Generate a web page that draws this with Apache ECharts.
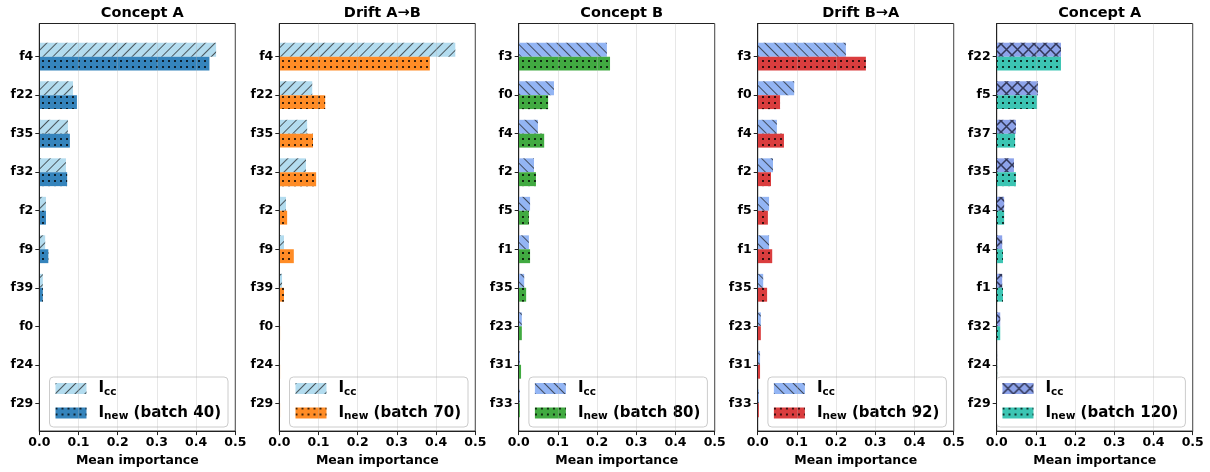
<!DOCTYPE html>
<html>
<head>
<meta charset="utf-8">
<script src="https://cdn.jsdelivr.net/npm/echarts@6/dist/echarts.min.js"></script>
<style>
  html, body { margin: 0; padding: 0; background: #fff; }
  #chart { width: 1210px; height: 472px; }
</style>
</head>
<body>
<div id="chart"></div>
<script>
// Panel titles and the batch each I_new was measured on
const titles = ['Concept A', 'Drift A\u2192B', 'Concept B', 'Drift B\u2192A', 'Concept A'];
const batches = [40, 70, 80, 92, 120];

// Feature order per panel (top to bottom)
const feats1 = ['f4', 'f22', 'f35', 'f32', 'f2', 'f9', 'f39', 'f0', 'f24', 'f29'];
const feats2 = ['f4', 'f22', 'f35', 'f32', 'f2', 'f9', 'f39', 'f0', 'f24', 'f29'];
const feats3 = ['f3', 'f0', 'f4', 'f2', 'f5', 'f1', 'f35', 'f23', 'f31', 'f33'];
const feats4 = ['f3', 'f0', 'f4', 'f2', 'f5', 'f1', 'f35', 'f23', 'f31', 'f33'];
const feats5 = ['f22', 'f5', 'f37', 'f35', 'f34', 'f4', 'f1', 'f32', 'f24', 'f29'];

// Concept-classifier importance (I_cc)
const icc1 = [0.451, 0.086, 0.073, 0.068, 0.017, 0.015, 0.009, 0.001, 0.0005, 0.0003];
const icc2 = [0.449, 0.084, 0.071, 0.068, 0.017, 0.012, 0.007, 0.001, 0.001, 0.001];
const icc3 = [0.225, 0.090, 0.049, 0.039, 0.029, 0.026, 0.014, 0.008, 0.003, 0.003];
const icc4 = [0.225, 0.093, 0.049, 0.039, 0.029, 0.029, 0.014, 0.008, 0.006, 0.003];
const icc5 = [0.164, 0.105, 0.049, 0.044, 0.019, 0.014, 0.014, 0.009, 0.001, 0.0003];

// Importance on the new batch (I_new)
const inew1 = [0.434, 0.096, 0.078, 0.071, 0.017, 0.023, 0.009, 0.0005, 0.0003, 0.0002];
const inew2 = [0.384, 0.117, 0.086, 0.094, 0.020, 0.037, 0.012, 0.002, 0.002, 0.002];
const inew3 = [0.233, 0.075, 0.065, 0.044, 0.026, 0.029, 0.019, 0.008, 0.006, 0.003];
const inew4 = [0.276, 0.057, 0.067, 0.034, 0.026, 0.037, 0.024, 0.008, 0.006, 0.003];
const inew5 = [0.164, 0.103, 0.047, 0.049, 0.019, 0.016, 0.016, 0.009, 0.001, 0.0003];

// X ticks
const xTicks = [0.0, 0.1, 0.2, 0.3, 0.4, 0.5];

const feats = [feats1, feats2, feats3, feats4, feats5];
const iccs = [icc1, icc2, icc3, icc4, icc5];
const inews = [inew1, inew2, inew3, inew4, inew5];

const ccColors = ['#b3dcef', '#b3dcef', '#93b5f4', '#93b5f4', '#8da3ea'];
const newColors = ['#3584bc', '#ff8c26', '#41aa41', '#da3d3e', '#3cc5b3'];
const hatchKinds = ['/', '/', '\\', '\\', 'x'];

const FONT = 'DejaVu Sans';
const W = 1210, H = 472;
const frameTop = 23.5, frameH = 411.5, frameW = 196;
const frameLefts = [39.3, 279.3, 518.7, 757.7, 996.7];
const rowStep = 38.51, firstRow = 56.7;
const dataTop = firstRow - rowStep / 2, dataH = rowStep * 10;

function hatchDecal(kind) {
  if (kind === 'x') {
    return {
      symbol: 'path://M0,0L1,0L10,9L10,10L9,10L0,1Z M9,0L10,0L10,1L1,10L0,10L0,9Z',
      symbolSize: 1,
      dashArrayX: [11, 0],
      dashArrayY: [11, 0],
      rotation: 0,
      color: 'rgba(20,20,40,0.75)'
    };
  }
  return {
    symbol: 'rect',
    symbolSize: 1,
    dashArrayX: [10, 0],
    dashArrayY: [1, 6],
    rotation: kind === '/' ? -Math.PI / 4 : Math.PI / 4,
    color: 'rgba(30,30,30,0.7)'
  };
}
const dotDecal = {
  symbol: 'circle',
  symbolSize: 1,
  dashArrayX: [1.8, 3.2],
  dashArrayY: [1.8, 3.2],
  rotation: 0,
  color: '#000'
};

const grid = [], xAxis = [], yAxis = [], series = [], title = [], legend = [];
const names = {};

for (let i = 0; i < 5; i++) {
  const left = frameLefts[i];
  // frame grid: border, x ticks, grid lines
  grid.push({ left: left, top: frameTop, width: frameW, height: frameH,
    show: true, borderColor: '#222', borderWidth: 1, backgroundColor: 'transparent' });
  // data grid: bars and category labels
  grid.push({ left: left, top: dataTop, width: frameW, height: dataH, show: false });

  xAxis.push({
    gridIndex: 2 * i, type: 'value', min: xTicks[0], max: xTicks[xTicks.length - 1], interval: 0.1,
    z: 5,
    axisLine: { show: true, lineStyle: { color: '#222', width: 1 } },
    axisTick: { show: true, inside: false, length: 4, lineStyle: { color: '#222' } },
    axisLabel: { show: true, margin: 5, fontFamily: FONT, fontWeight: 'bold', fontSize: 12.5, color: '#000',
      formatter: v => v.toFixed(1) },
    splitLine: { show: true, lineStyle: { color: 'rgba(176,176,176,0.3)', width: 1 } },
    name: 'Mean importance', nameLocation: 'middle', nameGap: 19,
    nameTextStyle: { fontFamily: FONT, fontWeight: 'bold', fontSize: 12.5, color: '#000' }
  });
  xAxis.push({
    gridIndex: 2 * i + 1, type: 'value', min: 0, max: 0.5, show: false
  });
  yAxis.push({
    gridIndex: 2 * i, type: 'value', min: 0, max: 1, z: 6,
    axisLine: { show: true, lineStyle: { color: '#222', width: 1 } },
    axisTick: { show: false }, axisLabel: { show: false }, splitLine: { show: false }
  });
  yAxis.push({
    gridIndex: 2 * i + 1, type: 'category', data: feats[i], inverse: true,
    axisLine: { show: false },
    axisTick: { show: true, alignWithLabel: true, length: 4, lineStyle: { color: '#222' } },
    axisLabel: { margin: 6, fontFamily: FONT, fontWeight: 'bold', fontSize: 12.5, color: '#000' },
    splitLine: { show: false }
  });

  const ccName = 'cc' + i, newName = 'new' + i;
  names[ccName] = '{sp|}{b|I}{s|cc}';
  names[newName] = '{sp|}{b|I}{s|new}{b| (batch ' + batches[i] + ')}';

  series.push({
    name: ccName, type: 'bar', xAxisIndex: 2 * i + 1, yAxisIndex: 2 * i + 1,
    data: iccs[i], barWidth: 13.9, barGap: '0%',
    itemStyle: { color: ccColors[i], decal: hatchDecal(hatchKinds[i]) },
    emphasis: { disabled: true }, animation: false
  });
  series.push({
    name: newName, type: 'bar', xAxisIndex: 2 * i + 1, yAxisIndex: 2 * i + 1,
    data: inews[i], barWidth: 13.9, barGap: '0%',
    itemStyle: { color: newColors[i], decal: dotDecal },
    emphasis: { disabled: true }, animation: false
  });

  title.push({
    text: titles[i], left: left + frameW / 2, top: 1, textAlign: 'center',
    textStyle: { fontFamily: FONT, fontWeight: 'bold', fontSize: 14.5, color: '#000' }
  });

  legend.push({
    data: [ccName, newName], orient: 'vertical',
    right: W - (left + frameW - 7.3), bottom: H - (frameTop + frameH - 8),
    icon: 'rect', itemWidth: 31, itemHeight: 11, itemGap: 8,
    padding: [4, 7, 5, 6],
    backgroundColor: 'rgba(255,255,255,0.8)', borderColor: '#cccccc', borderWidth: 1, borderRadius: 4,
    selectedMode: false,
    formatter: n => names[n],
    textStyle: {
      fontFamily: FONT, fontWeight: 'bold', fontSize: 15, color: '#000',
      rich: {
        sp: { width: 7 },
        b: { fontFamily: FONT, fontWeight: 'bold', fontSize: 15, color: '#000' },
        s: { fontFamily: FONT, fontWeight: 'bold', fontSize: 10.5, color: '#000', padding: [7, 0, 0, 0] }
      }
    }
  });
}

const chart = echarts.init(document.getElementById('chart'), null, { renderer: 'canvas' });
chart.setOption({
  backgroundColor: '#fff',
  animation: false,
  textStyle: { fontFamily: FONT },
  title, legend, grid, xAxis, yAxis, series
});
</script>
</body>
</html>
